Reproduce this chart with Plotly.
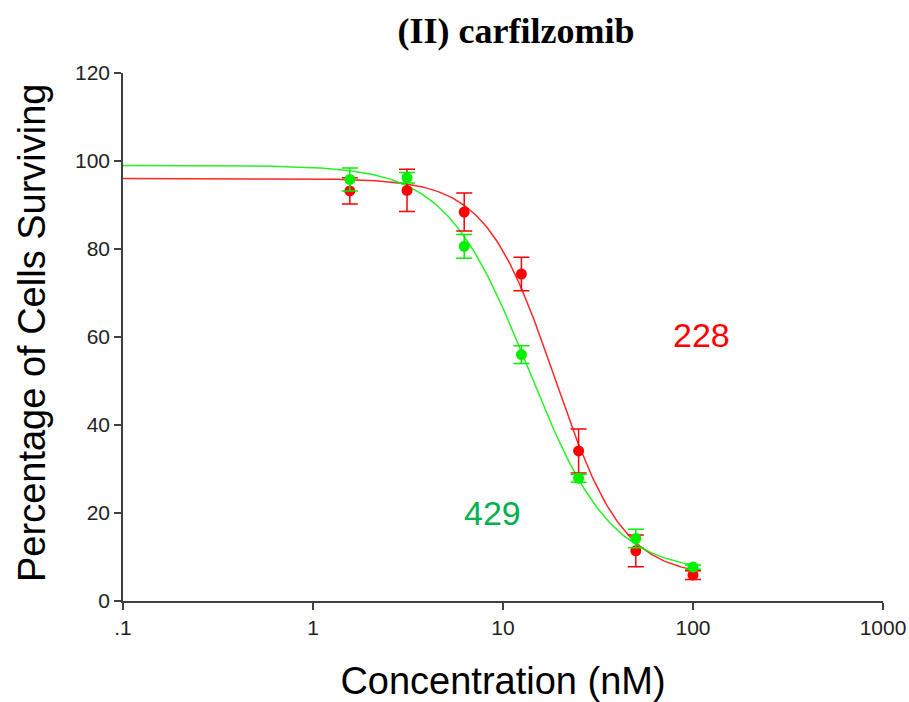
import numpy as np
import plotly.graph_objects as go

# Data
conc = [1.5625, 3.125, 6.25, 12.5, 25, 50, 100]  # nM
red_mean = [93.2, 93.3, 88.4, 74.3, 34.1, 11.4, 5.9]
red_err = [3.0, 4.8, 4.3, 3.8, 5.0, 3.6, 1.0]
green_mean = [95.8, 96.2, 80.6, 56.0, 27.9, 14.2, 7.7]
green_err = [2.6, 1.2, 2.7, 2.0, 0.9, 2.1, 0.5]

# Four-parameter logistic fit parameters (top, bottom, IC50, hill)
red_fit = dict(top=96.0, bottom=5.5, ic50=18.7, hill=2.4)
green_fit = dict(top=99.0, bottom=6.5, ic50=13.6, hill=2.0)

x_ticks = [0.1, 1, 10, 100, 1000]
x_ticktext = [".1", "1", "10", "100", "1000"]
y_ticks = [0, 20, 40, 60, 80, 100, 120]


def logistic(x, p):
    x = np.asarray(x, dtype=float)
    return p["bottom"] + (p["top"] - p["bottom"]) / (1 + (x / p["ic50"]) ** p["hill"])


xs = np.logspace(-1, 2, 300)

RED = "#ff0000"
GREEN = "#00f000"

fig = go.Figure()

for fit, col in [(red_fit, RED), (green_fit, GREEN)]:
    fig.add_trace(go.Scatter(
        x=xs, y=logistic(xs, fit), mode="lines",
        line=dict(color=col, width=1.5), opacity=0.85,
        showlegend=False, hoverinfo="skip"))

for mean, err, col in [(red_mean, red_err, RED), (green_mean, green_err, GREEN)]:
    fig.add_trace(go.Scatter(
        x=conc, y=mean, mode="markers",
        marker=dict(color=col, size=11),
        error_y=dict(type="data", array=err, visible=True, color=col,
                     thickness=1.5, width=8),
        showlegend=False))

fig.add_annotation(x=np.log10(111), y=60.5, xref="x", yref="y", text="228",
                   showarrow=False, font=dict(family="Liberation Sans", size=34, color="#ff0000"))
fig.add_annotation(x=np.log10(8.85), y=20.1, xref="x", yref="y", text="429",
                   showarrow=False, font=dict(family="Liberation Sans", size=34, color="#00b050"))

# y-axis title as a rotated annotation placed like the reference
fig.add_annotation(x=(32 - 123) / 760, y=(601 - 333) / 528, xref="paper", yref="paper",
                   text="Percentage of Cells Surviving", textangle=-90, showarrow=False,
                   xanchor="center", yanchor="middle",
                   font=dict(family="Liberation Sans", size=38, color="black"))

fig.update_layout(
    width=909, height=702,
    paper_bgcolor="white", plot_bgcolor="white",
    margin=dict(l=123, r=26, t=73, b=101, autoexpand=False),
    title=dict(text="<b>(II) carfilzomib</b>", x=516 / 909, xanchor="center",
               y=1 - 30 / 702, yanchor="middle",
               font=dict(family="Liberation Serif", size=36, color="black")),
    xaxis=dict(type="log", range=[-1, 3], tickvals=x_ticks, ticktext=x_ticktext,
               showgrid=False, zeroline=False, showline=True, linecolor="#404040",
               linewidth=1.5, ticks="outside", ticklen=7, tickwidth=1.5, tickcolor="#404040",
               tickfont=dict(family="Liberation Sans", size=21, color="#222222"),
               title=dict(text="Concentration (nM)", standoff=30,
                          font=dict(family="Liberation Sans", size=38, color="black"))),
    yaxis=dict(range=[0, 120], tickvals=y_ticks,
               showgrid=False, zeroline=False, showline=True, linecolor="#404040",
               linewidth=1.5, ticks="outside", ticklen=7, tickwidth=1.5, tickcolor="#404040",
               tickfont=dict(family="Liberation Sans", size=21, color="#222222")),
)

fig.write_html("out.html", config={"displayModeBar": False},
               post_script="document.body.style.margin='0';")
